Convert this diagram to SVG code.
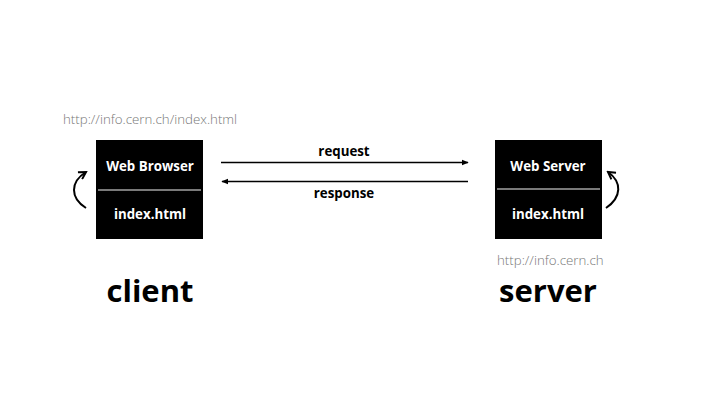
<svg xmlns="http://www.w3.org/2000/svg" width="717" height="402" viewBox="0 0 717 402">
<defs>
<style>
.box{fill:#000}
.div{stroke:#7a7a7a;stroke-width:2}
.lbl{font-family:"Open Sans","Noto Sans",sans-serif;font-weight:bold;font-size:13.3px;fill:#fff;text-anchor:middle}
.url{font-family:"Open Sans","Noto Sans",sans-serif;font-weight:300;font-size:13.3px;fill:#777}
.big{font-family:"Open Sans","Noto Sans",sans-serif;font-weight:bold;font-size:31px;fill:#000;text-anchor:middle}
.msg{font-family:"Open Sans","Noto Sans",sans-serif;font-weight:bold;font-size:13.3px;fill:#000;text-anchor:middle}
.ln{stroke:#000;stroke-width:1.5;fill:none}
.cv{stroke:#000;stroke-width:2;fill:none}
</style>
<marker id="ah" viewBox="0 0 10 10" refX="9" refY="5" markerWidth="7" markerHeight="7" orient="auto-start-reverse" markerUnits="userSpaceOnUse">
<path d="M0,1 L10,5 L0,9 z" fill="#000"/>
</marker>
<marker id="ah2" viewBox="0 0 10 10" refX="8" refY="5" markerWidth="10" markerHeight="10" orient="auto" markerUnits="userSpaceOnUse">
<path d="M1,1 L8,5 L1,9" fill="none" stroke="#000" stroke-width="2"/>
</marker>
</defs>
<rect width="717" height="402" fill="#fff"/>
<g id="client">
<text class="url" x="63" y="124">http://info.cern.ch/index.html</text>
<rect class="box" x="96" y="140" width="107" height="99"/>
<line class="div" x1="98" y1="190" x2="201" y2="190"/>
<text class="lbl" x="150" y="171">Web Browser</text>
<text class="lbl" x="150" y="219">index.html</text>
<text class="big" x="150" y="302">client</text>
</g>
<g id="server">
<rect class="box" x="495" y="140" width="107" height="99"/>
<line class="div" x1="497" y1="189" x2="600" y2="189"/>
<text class="lbl" x="548" y="171">Web Server</text>
<text class="lbl" x="548" y="219">index.html</text>
<text class="url" x="497" y="265">http://info.cern.ch</text>
<text class="big" x="548" y="302">server</text>
</g>
<g id="connectors">
<line class="ln" x1="221" y1="162.5" x2="468" y2="162.5" marker-end="url(#ah)"/>
<text class="msg" x="344" y="156">request</text>
<line class="ln" x1="222" y1="181.5" x2="468" y2="181.5" marker-start="url(#ah)"/>
<text class="msg" x="344" y="198">response</text>
<path class="cv" d="M86,208 C70,198 70,182 86,172" marker-end="url(#ah2)"/>
<path class="cv" d="M606,208 C622,197 622,182 608,172" marker-end="url(#ah2)"/>
</g>
</svg>
